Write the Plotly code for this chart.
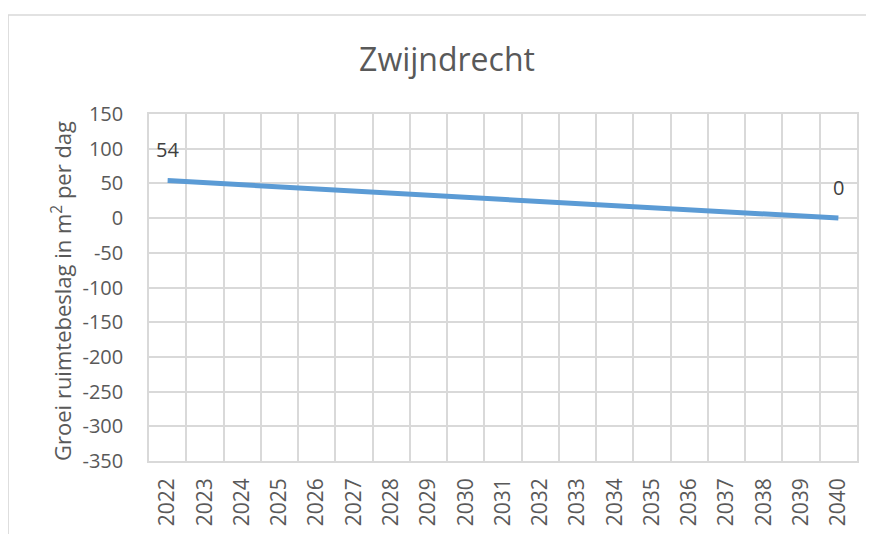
import plotly.graph_objects as go

years = [2022, 2023, 2024, 2025, 2026, 2027, 2028, 2029, 2030, 2031,
         2032, 2033, 2034, 2035, 2036, 2037, 2038, 2039, 2040]
values = [54, 51, 48, 45, 42, 39, 36, 33, 30, 27,
          24, 21, 18, 15, 12, 9, 6, 3, 0]
y_ticks = [150, 100, 50, 0, -50, -100, -150, -200, -250, -300, -350]
y_tick_labels = ["150", "100", "50", "0", "-50", "-100", "-150", "-200",
                 "-250", "-300", "-350"]
title_text = "Zwijndrecht"
y_title = "Groei ruimtebeslag in m<sup>2</sup> per dag"

FONT = "Open Sans"
GRID = "#D9D9D9"
TXT = "#595959"

fig = go.Figure()
fig.add_trace(go.Scatter(
    x=years, y=values, mode="lines",
    line=dict(color="#5B9BD5", width=5),
    showlegend=False, hoverinfo="x+y",
))

for i in (0, len(years) - 1):
    fig.add_annotation(x=years[i], y=values[i], text=str(values[i]),
                       showarrow=False, yshift=31,
                       xanchor="center", yanchor="middle",
                       font=dict(family=FONT, size=20, color="#404040"))

fig.add_annotation(xref="paper", yref="paper", x=-0.1229, y=0.49,
                   xanchor="center", yanchor="middle",
                   text=y_title, textangle=-90, showarrow=False,
                   font=dict(family=FONT, size=22, color=TXT))

# outer chart border
fig.add_shape(type="rect", xref="paper", yref="paper",
              x0=-0.199, x1=1.5, y0=-0.5, y1=1.2853,
              line=dict(color=GRID, width=1.5), layer="below")

fig.update_layout(
    width=874, height=534,
    margin=dict(l=141, r=25, t=106, b=81, autoexpand=False),
    paper_bgcolor="white", plot_bgcolor="white",
    title=dict(text=title_text, x=0.5023, xanchor="center", y=0.9026,
               yanchor="middle",
               font=dict(family=FONT, size=32, color=TXT)),
    font=dict(family=FONT, size=20, color=TXT),
    xaxis=dict(
        range=[2021.5, 2040.5], tickmode="array", tickvals=years,
        ticktext=[str(y) for y in years], tickangle=-90,
        showgrid=False, zeroline=False, automargin=False,
        showline=True, linecolor=GRID, linewidth=1.5, mirror=True,
        ticks="outside", ticklen=7, tickcolor="rgba(0,0,0,0)",
        minor=dict(showgrid=True, gridcolor=GRID, gridwidth=1.5,
                   tick0=2021.5, dtick=1),
        tickfont=dict(family=FONT, size=21, color=TXT),
    ),
    yaxis=dict(
        range=[-350, 150], tickmode="array", tickvals=y_ticks,
        ticktext=y_tick_labels,
        showgrid=True, gridcolor=GRID, gridwidth=1.5, zeroline=False,
        automargin=False,
        showline=True, linecolor=GRID, linewidth=1.5, mirror=True,
        ticks="outside", ticklen=20, tickcolor="rgba(0,0,0,0)",
        tickfont=dict(family=FONT, size=20, color=TXT),
    ),
)

fig.write_html("out.html")
